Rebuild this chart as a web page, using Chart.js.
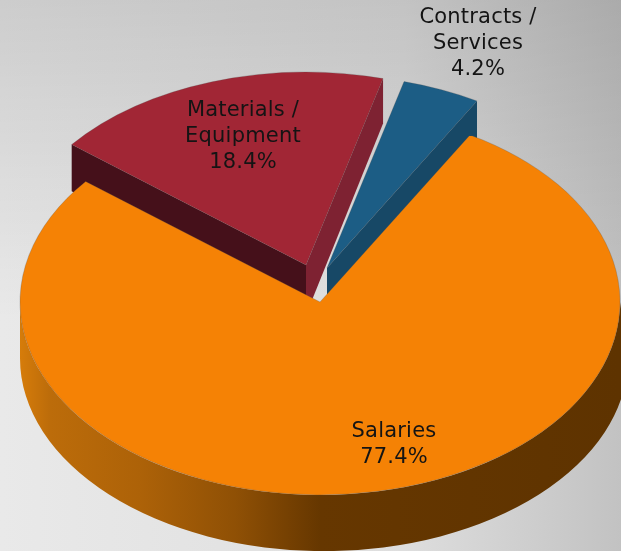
<!DOCTYPE html>
<html>
<head>
<meta charset="utf-8">
<style>html,body{margin:0;padding:0;background:#d8d8d8;overflow:hidden}canvas{display:block}</style>
<script src="https://cdn.jsdelivr.net/npm/chart.js@4"></script>
</head>
<body>
<canvas id="c" width="621" height="551"></canvas>
<script>
const categories = ["Salaries", "Materials /\nEquipment", "Contracts /\nServices"];
const shares = [77.4, 18.4, 4.2];
const topColors = ["#F58205", "#A12635", "#1C5D85"];

// Drawing style of the tilted pie
const center = {x: 320, y: 302};
const radius = 300;
const tilt = 0.643;
const lift = [[0, 0], [-14, -37], [7, -34]];
const startWall = [null, "#45101A", null];
const endWall = [null, "#7E2232", "#174866"];
const labelAt = [[394, 432], [243, 111], [478, 18]];
const depthAt = y => 45 + (y - 80) * 0.027;

const pie3d = {
  id: "pie3d",
  beforeDraw(chart) {
    const c = chart.ctx;
    const g = c.createLinearGradient(0, 0, 621, 0);
    g.addColorStop(0, "#E9E9E9");
    g.addColorStop(0.65, "#DEDEDE");
    g.addColorStop(1, "#C2C2C2");
    c.fillStyle = g;
    c.fillRect(0, 0, 621, 551);
    const v = c.createLinearGradient(0, 0, 0, 320);
    v.addColorStop(0, "rgba(0,0,0,0.12)");
    v.addColorStop(1, "rgba(0,0,0,0)");
    c.fillStyle = v;
    c.fillRect(0, 0, 621, 320);
  },
  beforeDatasetsDraw(chart) {
    const c = chart.ctx;
    const arcs = chart.getDatasetMeta(0).data;
    const pt = (i, a) => [
      center.x + lift[i][0] + radius * Math.cos(a),
      center.y + lift[i][1] + radius * tilt * Math.sin(a)
    ];
    const tip = i => [center.x + lift[i][0], center.y + lift[i][1]];
    const quad = (p, q, color) => {
      c.beginPath();
      c.moveTo(p[0], p[1]);
      c.lineTo(q[0], q[1]);
      c.lineTo(q[0], q[1] + depthAt(q[1]));
      c.lineTo(p[0], p[1] + depthAt(p[1]));
      c.closePath();
      c.fillStyle = color;
      c.fill();
    };
    [2, 1].forEach(i => {
      if (startWall[i]) quad(tip(i), pt(i, arcs[i].startAngle), startWall[i]);
      if (endWall[i]) quad(tip(i), pt(i, arcs[i].endAngle), endWall[i]);
    });
    // Outer rim of the front slice
    const g = c.createLinearGradient(center.x - radius, 0, center.x + radius, 0);
    g.addColorStop(0, "#D67C0A");
    g.addColorStop(0.05, "#BC6C0A");
    g.addColorStop(0.2, "#AD6208");
    g.addColorStop(0.36, "#8F5005");
    g.addColorStop(0.5, "#663700");
    g.addColorStop(1, "#5E3300");
    c.fillStyle = g;
    const rim = depthAt(center.y + radius * tilt);
    c.beginPath();
    c.ellipse(center.x, center.y, radius, radius * tilt, 0, 0, Math.PI);
    c.ellipse(center.x + 4, center.y + rim, radius + 4, radius * tilt, 0, Math.PI, 0, true);
    c.closePath();
    c.fill();
  },
  beforeDatasetDraw(chart) {
    const c = chart.ctx;
    const arcs = chart.getDatasetMeta(0).data;
    [2, 1, 0].forEach(i => {
      const a = arcs[i];
      c.save();
      c.translate(center.x + lift[i][0], center.y + lift[i][1]);
      c.scale(1, tilt);
      c.translate(-a.x, -a.y);
      a.draw(c);
      c.restore();
    });
    return false;
  },
  afterDraw(chart) {
    const c = chart.ctx;
    c.save();
    c.font = '21px "DejaVu Sans"';
    c.letterSpacing = "0.2px";
    c.fillStyle = "#141414";
    c.textAlign = "center";
    c.textBaseline = "middle";
    categories.forEach((name, i) => {
      const lines = name.split("\n").concat(shares[i].toFixed(1) + "%");
      lines.forEach((t, k) => c.fillText(t, labelAt[i][0], labelAt[i][1] + k * 26));
    });
    c.restore();
  }
};

new Chart(document.getElementById("c"), {
  type: "pie",
  data: {
    labels: categories,
    datasets: [{data: shares, backgroundColor: topColors, borderWidth: 1, borderColor: "rgba(80,80,80,0.3)", clip: false}]
  },
  options: {
    responsive: false,
    animation: false,
    rotation: 30,
    radius: radius,
    layout: {padding: 0},
    plugins: {legend: {display: false}, tooltip: {enabled: false}, title: {display: false}}
  },
  plugins: [pie3d]
});
</script>
</body>
</html>
